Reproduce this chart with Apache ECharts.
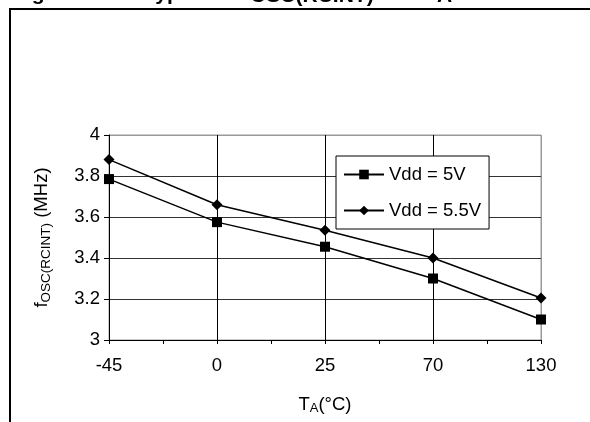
<!DOCTYPE html>
<html>
<head>
<meta charset="utf-8">
<script src="https://cdn.jsdelivr.net/npm/echarts@6/dist/echarts.min.js"></script>
<style>
html,body{margin:0;padding:0;background:#fff;}
#c{width:590px;height:422px;}
</style>
</head>
<body>
<div id="c"></div>
<script>
var categories = ['-45', '0', '25', '70', '130'];
var vdd5 = [3.785, 3.575, 3.455, 3.30, 3.10];
var vdd55 = [3.88, 3.66, 3.535, 3.40, 3.205];
var seriesNames = ['Vdd = 5V', 'Vdd = 5.5V'];
var yTicks = { min: 3, max: 4, interval: 0.2 };

var FONT = 'Arial, "Liberation Sans", sans-serif';
var chart = echarts.init(document.getElementById('c'), null, { renderer: 'canvas' });

var titleFont = 'bold 21px ' + FONT;
var FS = 18.5;
var option = {
  backgroundColor: '#fff',
  animation: false,
  graphic: [
    { type: 'text', style: { text: 'Figure 12-4:', x: 13, y: -6, font: titleFont, fill: '#000', verticalAlign: 'middle' } },
    { type: 'text', style: { text: 'Typical F', x: 144, y: -6, font: titleFont, fill: '#000', verticalAlign: 'middle' } },
    { type: 'text', style: { text: 'OSC(RCINT)', x: 250, y: -4, font: titleFont, fill: '#000', verticalAlign: 'middle' } },
    { type: 'text', style: { text: 'vs. T', x: 389, y: -6, font: titleFont, fill: '#000', verticalAlign: 'middle' } },
    { type: 'text', style: { text: 'A', x: 437, y: -4, font: titleFont, fill: '#000', verticalAlign: 'middle' } },
    { type: 'line', shape: { x1: 9, y1: 9, x2: 590, y2: 9 }, style: { stroke: '#000', lineWidth: 2 } },
    { type: 'line', shape: { x1: 10, y1: 8, x2: 10, y2: 422 }, style: { stroke: '#000', lineWidth: 2 } }
  ],
  grid: { left: 109, right: 49, top: 135, bottom: 82, show: true, borderColor: '#999', borderWidth: 1, backgroundColor: 'transparent' },
  legend: {
    orient: 'vertical',
    left: 336,
    top: 156,
    backgroundColor: '#fff',
    borderColor: '#000',
    borderWidth: 1,
    padding: [9, 8, 9, 7],
    itemWidth: 40,
    itemHeight: 12,
    itemGap: 17,
    data: seriesNames,
    textStyle: { fontFamily: FONT, fontSize: FS, color: '#000' },
    selectedMode: false
  },
  xAxis: [
    {
      type: 'category',
      data: categories,
      boundaryGap: false,
      axisLine: { lineStyle: { color: '#000', width: 1 } },
      axisTick: { show: true, length: 4, lineStyle: { color: '#000' } },
      axisLabel: { fontFamily: FONT, fontSize: FS, color: '#000', margin: 16 },
      splitLine: { show: true, lineStyle: { color: ['#000', '#000', '#000', '#000', '#999'], width: 1 } },
      name: 'T{sub|A}(°C)',
      nameLocation: 'middle',
      nameGap: 54,
      nameTextStyle: {
        fontFamily: FONT, fontSize: FS, color: '#000',
        rich: { sub: { fontFamily: FONT, fontSize: 13, color: '#000', verticalAlign: 'bottom', padding: [8, 0, 0, 0] } }
      }
    },
    {
      type: 'value',
      min: 0, max: 8, interval: 1,
      position: 'bottom',
      axisLine: { show: false },
      axisTick: { show: true, length: 4, lineStyle: { color: '#000' } },
      axisLabel: { show: false },
      splitLine: { show: false }
    }
  ],
  yAxis: {
    type: 'value',
    min: yTicks.min,
    max: yTicks.max,
    interval: yTicks.interval,
    axisLine: { show: true, lineStyle: { color: '#000', width: 1 } },
    axisTick: { show: true, length: 5, lineStyle: { color: '#000' } },
    axisLabel: { fontFamily: FONT, fontSize: FS, color: '#000', margin: 9 },
    splitLine: { show: true, lineStyle: { color: ['#000', '#333', '#333', '#333', '#333', '#999'], width: 1 } },
    name: 'f{sub|OSC(RCINT)} (MHz)',
    nameLocation: 'middle',
    nameRotate: 90,
    nameGap: 56,
    nameTextStyle: {
      fontFamily: FONT, fontSize: FS, color: '#000',
      rich: { sub: { fontFamily: FONT, fontSize: 13.5, color: '#000', verticalAlign: 'bottom', padding: [8, 0, 0, 0] } }
    }
  },
  series: [
    {
      name: seriesNames[0],
      type: 'line',
      data: vdd5,
      symbol: 'rect',
      symbolSize: 10,
      itemStyle: { color: '#000' },
      lineStyle: { color: '#000', width: 1.5 },
      z: 3
    },
    {
      name: seriesNames[1],
      type: 'line',
      data: vdd55,
      symbol: 'diamond',
      symbolSize: [11, 11],
      itemStyle: { color: '#000' },
      lineStyle: { color: '#000', width: 1.5 },
      z: 3
    }
  ]
};
chart.setOption(option);
</script>
</body>
</html>
